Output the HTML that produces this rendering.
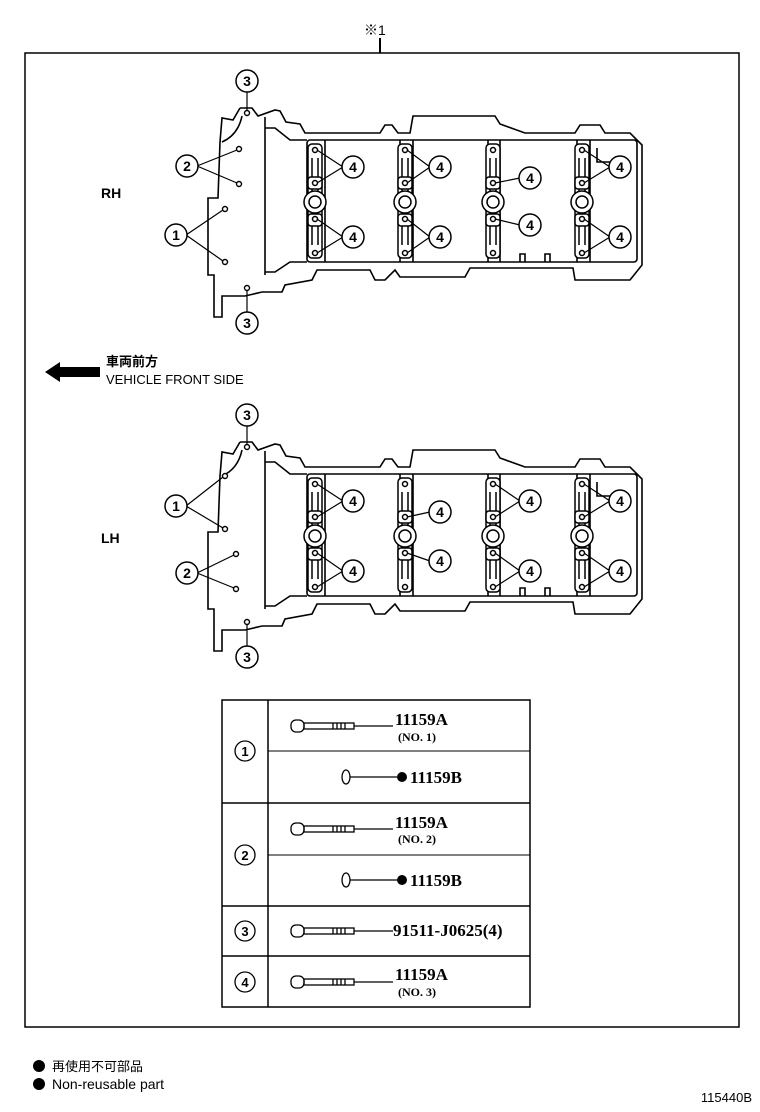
<!DOCTYPE html>
<html><head><meta charset="utf-8"><style>
html,body{margin:0;padding:0;background:#fff;}
svg{display:block}
.t{font-family:"Liberation Sans","Noto Sans CJK JP",sans-serif;}
.pn{font-family:"Liberation Serif","Noto Serif CJK SC",serif;font-weight:bold;}
</style></head><body>
<svg width="760" height="1112" viewBox="0 0 760 1112" xmlns="http://www.w3.org/2000/svg">
<defs>
<g id="cover" fill="none" stroke="#000" stroke-width="1.6">
  <path d="M240 108 L252 108 L258 116 L275 110 L280 111 L286 122 L300 124 L305 133 L380 133 L385 125 L392 125 L398 133 L410 133 L413 116 L495 116 L500 124 L525 133 L575 133 L580 125 L600 125 L605 133 L630 133 L642 145 L642 265 L630 280 L575 280 L573 268 L470 268 L465 277 L400 277 L395 270 L385 280 L375 280 L370 270 L317 270 L312 280 L285 285 L282 292 L262 292"/>
  <path d="M240 108 L233 120 L222 118 L220 142 L218 198 L208 198 L208 275 L214 275 L214 317 L222 317 L222 296 L245 296 L262 292"/>
  <path d="M265 117 L265 275"/>
  <path d="M265 128 L275 128 L290 140 L307 140"/>
  <path d="M265 272 L275 272 L290 262 L307 262"/>
  <path d="M222 142 Q238 135 242 116"/>
  <rect x="307" y="140" width="330" height="122" rx="3"/>
  <path d="M325 140 L325 262 M400 140 L400 262 M413 140 L413 262 M488 140 L488 262 M500 140 L500 262 M577 140 L577 262 M590 140 L590 262"/>
  <path d="M597 148 L597 162 L630 162" />
  <path d="M520 262 L520 254 L525 254 L525 262 M545 262 L545 254 L550 254 L550 262"/>
</g>
<g id="col" fill="#fff" stroke="#000" stroke-width="1.5">
  <rect x="-7" y="144" width="14" height="114" rx="4"/>
  <line x1="-3" y1="158" x2="-3" y2="245"/><line x1="3" y1="158" x2="3" y2="245"/>
  <circle cx="0" cy="202" r="11"/><circle cx="0" cy="202" r="6"/>
  <rect x="-7" y="177" width="14" height="12" rx="3"/>
  <rect x="-7" y="214" width="14" height="12" rx="3"/>
  <circle cx="0" cy="150" r="2.5"/><circle cx="0" cy="183" r="2.5"/>
  <circle cx="0" cy="219" r="2.5"/><circle cx="0" cy="253" r="2.5"/>
</g>
</defs>

<text x="364" y="35" class="t" font-size="14">※1</text>
<line x1="380" y1="38" x2="380" y2="53" stroke="#000" stroke-width="2"/>
<rect x="25" y="53" width="714" height="974" fill="none" stroke="#000" stroke-width="1.5"/>

<!-- RH -->
<g>
<use href="#cover"/>
<use href="#col" x="315"/><use href="#col" x="405"/><use href="#col" x="493"/><use href="#col" x="582"/>
<g fill="#fff" stroke="#000" stroke-width="1.4">
<circle cx="247" cy="113" r="2.5"/><circle cx="247" cy="288" r="2.5"/>
<circle cx="239" cy="149" r="2.5"/><circle cx="239" cy="184" r="2.5"/>
<circle cx="225" cy="209" r="2.5"/><circle cx="225" cy="262" r="2.5"/>
</g>
<g stroke="#000" stroke-width="1.2" fill="none">
<line x1="247" y1="92" x2="247" y2="110"/><line x1="247" y1="291" x2="247" y2="312"/>
<path d="M197 166 L237 150 M197 166 L237 183"/>
<path d="M186 235 L223 210 M186 235 L223 261"/>
<path d="M343 167 L317 150 M343 167 L317 183 M343 237 L317 219 M343 237 L317 253"/>
<path d="M430 167 L407 150 M430 167 L407 183 M430 237 L407 219 M430 237 L407 253"/>
<path d="M520 178 L495 183 M520 225 L495 219"/>
<path d="M610 167 L584 150 M610 167 L584 183 M610 237 L584 219 M610 237 L584 253"/>
</g>
</g>

<!-- LH -->
<g transform="translate(0,334)">
<use href="#cover"/>
<use href="#col" x="315"/><use href="#col" x="405"/><use href="#col" x="493"/><use href="#col" x="582"/>
<g fill="#fff" stroke="#000" stroke-width="1.4">
<circle cx="247" cy="113" r="2.5"/><circle cx="247" cy="288" r="2.5"/>
<circle cx="225" cy="142" r="2.5"/><circle cx="225" cy="195" r="2.5"/>
<circle cx="236" cy="220" r="2.5"/><circle cx="236" cy="255" r="2.5"/>
</g>
<g stroke="#000" stroke-width="1.2" fill="none">
<line x1="247" y1="92" x2="247" y2="110"/><line x1="247" y1="291" x2="247" y2="312"/>
<path d="M186 172 L223 143 M186 172 L223 194"/>
<path d="M197 239 L234 221 M197 239 L234 254"/>
<path d="M343 167 L317 150 M343 167 L317 183 M343 237 L317 219 M343 237 L317 253"/>
<path d="M430 178 L407 183 M430 227 L407 219"/>
<path d="M520 167 L495 150 M520 167 L495 183 M520 237 L495 219 M520 237 L495 253"/>
<path d="M610 167 L584 150 M610 167 L584 183 M610 237 L584 219 M610 237 L584 253"/>
</g>
</g>

<!-- callout circles -->
<g fill="#fff" stroke="#000" stroke-width="1.5" class="t" font-size="14">
<g>
<circle cx="247" cy="81" r="11"/><circle cx="247" cy="323" r="11"/>
<circle cx="187" cy="166" r="11"/><circle cx="176" cy="235" r="11"/>
<circle cx="353" cy="167" r="11"/><circle cx="353" cy="237" r="11"/>
<circle cx="440" cy="167" r="11"/><circle cx="440" cy="237" r="11"/>
<circle cx="530" cy="178" r="11"/><circle cx="530" cy="225" r="11"/>
<circle cx="620" cy="167" r="11"/><circle cx="620" cy="237" r="11"/>
<circle cx="247" cy="415" r="11"/><circle cx="247" cy="657" r="11"/>
<circle cx="176" cy="506" r="11"/><circle cx="187" cy="573" r="11"/>
<circle cx="353" cy="501" r="11"/><circle cx="353" cy="571" r="11"/>
<circle cx="440" cy="512" r="11"/><circle cx="440" cy="561" r="11"/>
<circle cx="530" cy="501" r="11"/><circle cx="530" cy="571" r="11"/>
<circle cx="620" cy="501" r="11"/><circle cx="620" cy="571" r="11"/>
</g>
<g fill="#000" stroke="none" text-anchor="middle" font-weight="bold">
<text x="247" y="86">3</text><text x="247" y="328">3</text>
<text x="187" y="171">2</text><text x="176" y="240">1</text>
<text x="353" y="172">4</text><text x="353" y="242">4</text>
<text x="440" y="172">4</text><text x="440" y="242">4</text>
<text x="530" y="183">4</text><text x="530" y="230">4</text>
<text x="620" y="172">4</text><text x="620" y="242">4</text>
<text x="247" y="420">3</text><text x="247" y="662">3</text>
<text x="176" y="511">1</text><text x="187" y="578">2</text>
<text x="353" y="506">4</text><text x="353" y="576">4</text>
<text x="440" y="517">4</text><text x="440" y="566">4</text>
<text x="530" y="506">4</text><text x="530" y="576">4</text>
<text x="620" y="506">4</text><text x="620" y="576">4</text>
</g>
</g>

<text x="101" y="198" class="t" font-size="14" font-weight="bold">RH</text>
<text x="101" y="543" class="t" font-size="14" font-weight="bold">LH</text>

<polygon points="45,372 60,362 60,367 100,367 100,377 60,377 60,382" fill="#000"/>
<text x="106" y="366" class="t" font-size="13" font-weight="bold">車両前方</text>
<text x="106" y="384" class="t" font-size="13">VEHICLE FRONT SIDE</text>

<!-- table -->
<g fill="none" stroke="#000" stroke-width="1.5">
<rect x="222" y="700" width="308" height="307"/>
<line x1="268" y1="700" x2="268" y2="1007"/>
<line x1="268" y1="751" x2="530" y2="751" stroke-width="1"/>
<line x1="222" y1="803" x2="530" y2="803"/>
<line x1="268" y1="855" x2="530" y2="855" stroke-width="1"/>
<line x1="222" y1="906" x2="530" y2="906"/>
<line x1="222" y1="956" x2="530" y2="956"/>
</g>
<g fill="none" stroke="#000" stroke-width="1.3">
<circle cx="245" cy="751" r="10"/><circle cx="245" cy="855" r="10"/>
<circle cx="245" cy="931" r="10"/><circle cx="245" cy="982" r="10"/>
</g>
<g class="t" font-size="13" text-anchor="middle" font-weight="bold">
<text x="245" y="756">1</text><text x="245" y="860">2</text>
<text x="245" y="936">3</text><text x="245" y="987">4</text>
</g>
<!-- bolts -->
<g fill="none" stroke="#000" stroke-width="1.3">
<g id="bolt"><rect x="291" y="720" width="13" height="12" rx="5"/><rect x="304" y="723" width="50" height="6"/><path d="M333 723 v6 M337 723 v6 M341 723 v6 M345 723 v6"/></g>
<use href="#bolt" y="103"/><use href="#bolt" y="205"/><use href="#bolt" y="256"/>
<line x1="354" y1="726" x2="393" y2="726"/>
<line x1="354" y1="829" x2="393" y2="829"/>
<line x1="354" y1="931" x2="393" y2="931"/>
<line x1="354" y1="982" x2="393" y2="982"/>
<ellipse cx="346" cy="777" rx="4" ry="7"/><line x1="350" y1="777" x2="397" y2="777"/>
<ellipse cx="346" cy="880" rx="4" ry="7"/><line x1="350" y1="880" x2="397" y2="880"/>
</g>
<circle cx="402" cy="777" r="5" fill="#000"/><circle cx="402" cy="880" r="5" fill="#000"/>
<g class="pn" font-size="17">
<text x="395" y="725">11159A</text>
<text x="410" y="783">11159B</text>
<text x="395" y="828">11159A</text>
<text x="410" y="886">11159B</text>
<text x="393" y="936">91511-J0625(4)</text>
<text x="395" y="980">11159A</text>
</g>
<g class="pn" font-size="12">
<text x="398" y="741">(NO. 1)</text>
<text x="398" y="843">(NO. 2)</text>
<text x="398" y="996">(NO. 3)</text>
</g>

<circle cx="39" cy="1066" r="6" fill="#000"/>
<text x="52" y="1071" class="t" font-size="13">再使用不可部品</text>
<circle cx="39" cy="1084" r="6" fill="#000"/>
<text x="52" y="1089" class="t" font-size="14">Non-reusable part</text>
<text x="752" y="1102" class="t" font-size="13" text-anchor="end">115440B</text>
</svg>
</body></html>
